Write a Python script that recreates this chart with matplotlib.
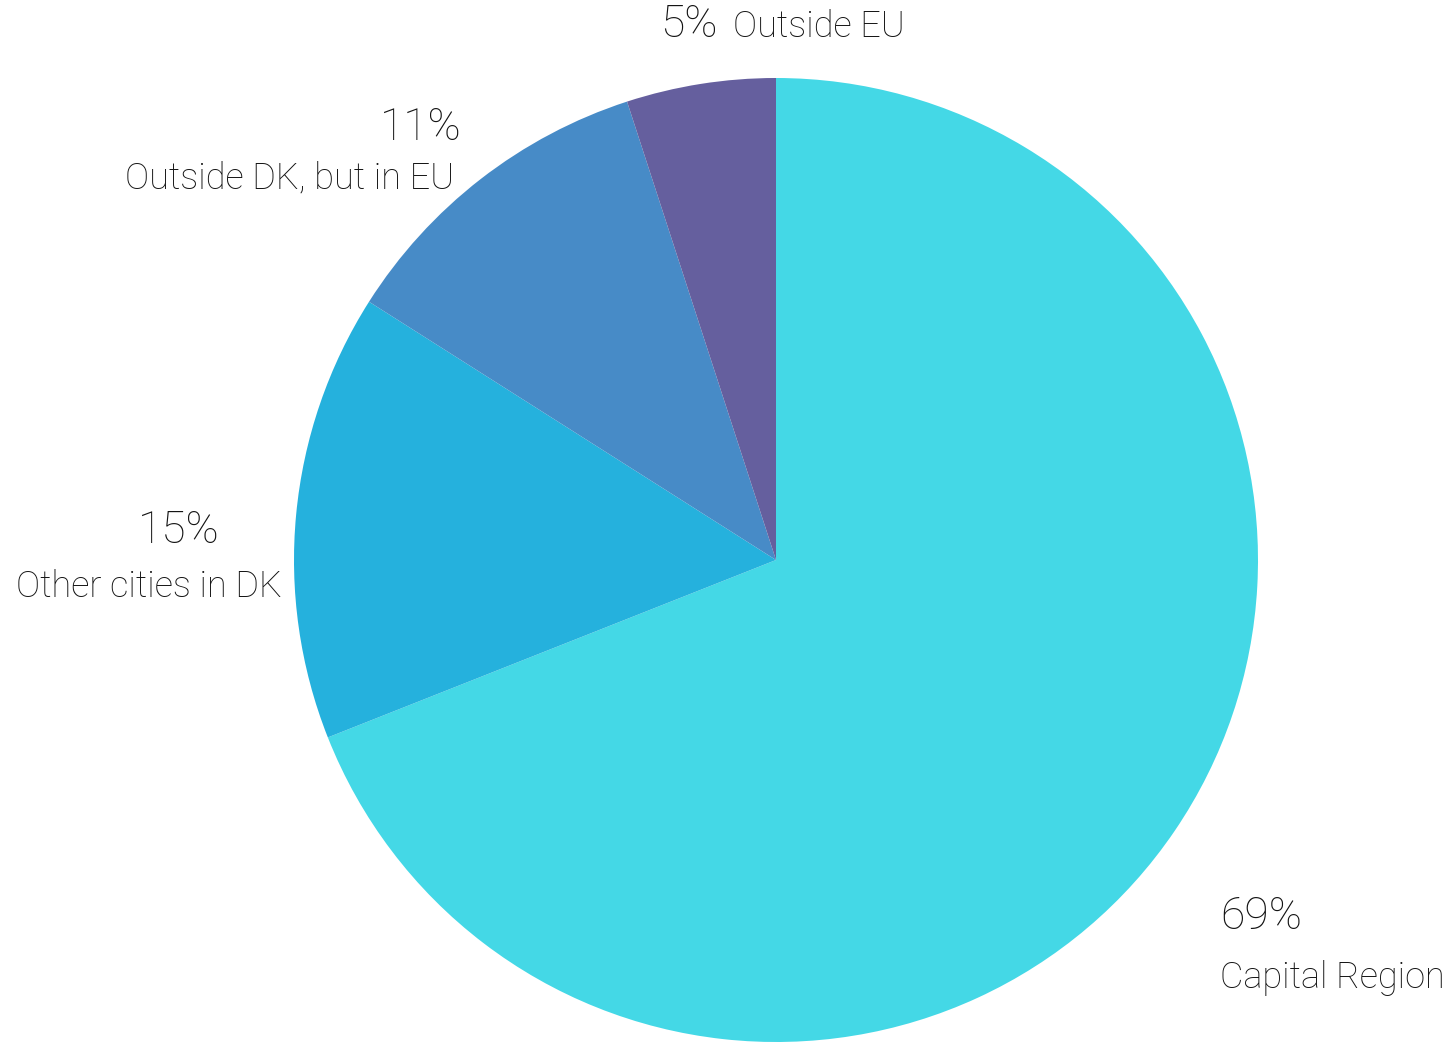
import matplotlib
matplotlib.use("Agg")
import matplotlib.pyplot as plt

# Share of respondents by location
labels = ["Capital Region", "Other cities in DK", "Outside DK, but in EU", "Outside EU"]
shares = [69, 15, 11, 5]
colors = ["#44D8E6", "#25B1DD", "#478BC7", "#655F9E"]

W, H = 1453, 1044
plt.rcParams["font.family"] = ["Roboto", "DejaVu Sans"]
fig = plt.figure(figsize=(W / 100, H / 100), dpi=100)

# pie centre and radius in pixels
cx, cy, r = 776, 560, 482
ax = fig.add_axes([(cx - r) / W, (H - cy - r) / H, 2 * r / W, 2 * r / H])
ax.pie(shares, colors=colors, startangle=90, counterclock=False, radius=1,
       wedgeprops=dict(linewidth=0))
ax.set_xlim(-1, 1)
ax.set_ylim(-1, 1)
ax.set_aspect("auto")
ax.axis("off")

txt = "#141414"


def put(x, y, s, size, ha="left", weight="light"):
    fig.text(x / W, 1 - y / H, s, ha=ha, va="baseline", fontsize=size,
             color=txt, fontweight=weight)


# percentage + name for each slice
put(718, 37, f"{shares[3]}%", 32, ha="right")
put(733, 37, labels[3], 26)
put(462, 140, f"{shares[2]}%", 32, ha="right")
put(454, 188, labels[2], 26, ha="right")
put(220, 543, f"{shares[1]}%", 32, ha="right")
put(282, 597, labels[1], 26, ha="right")
put(1220, 929, f"{shares[0]}%", 32)
put(1220, 988, labels[0], 26)

fig.savefig("out.png", dpi=100)
